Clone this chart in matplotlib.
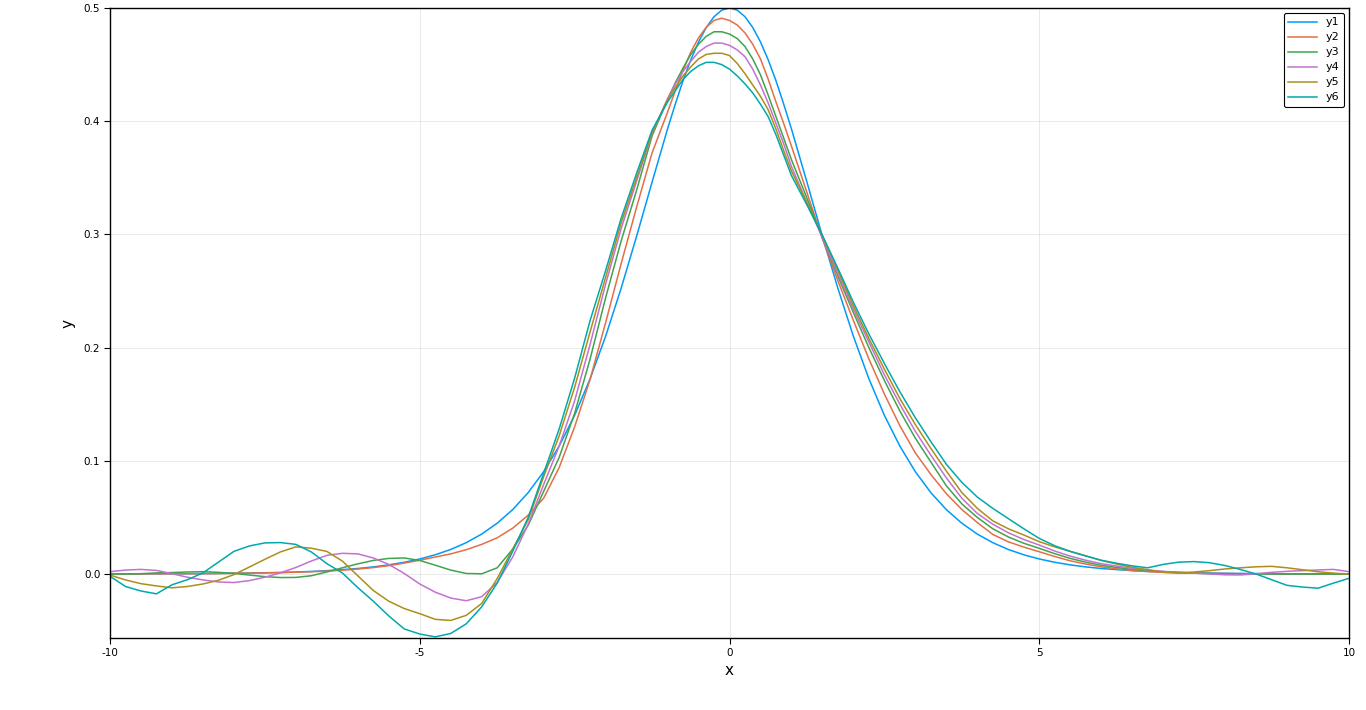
import matplotlib
matplotlib.use("Agg")
import matplotlib.pyplot as plt
import numpy as np

# sample positions: step 0.25 in the tails, 0.125 around the peak
x = np.concatenate([np.arange(-40, -4) * 0.25,
                    np.arange(-8, 9) * 0.125,
                    np.arange(5, 41) * 0.25])

y1 = [0.0001, 0.0001, 0.0002, 0.0002, 0.0002, 0.0003, 0.0004, 0.0005, 0.0007, 0.0009,
      0.0011, 0.0014, 0.0018, 0.0023, 0.0030, 0.0039, 0.0049, 0.0063, 0.0081, 0.0104,
      0.0133, 0.0170, 0.0217, 0.0277, 0.0353, 0.0449, 0.0569, 0.0719, 0.0904, 0.1130,
      0.1402, 0.1725, 0.2100, 0.2523, 0.2983, 0.3462,
      0.3932, 0.4151, 0.4358, 0.4542, 0.4700, 0.4828, 0.4923, 0.4981, 0.5000,
      0.4981, 0.4923, 0.4828, 0.4700, 0.4542, 0.4358, 0.4151, 0.3932,
      0.3462, 0.2983, 0.2523, 0.2100, 0.1725, 0.1402, 0.1130, 0.0904, 0.0719, 0.0569,
      0.0449, 0.0353, 0.0277, 0.0217, 0.0170, 0.0133, 0.0104, 0.0081, 0.0063, 0.0049,
      0.0039, 0.0030, 0.0023, 0.0018, 0.0014, 0.0011, 0.0009, 0.0007, 0.0005, 0.0004,
      0.0003, 0.0002, 0.0002, 0.0002, 0.0001, 0.0001]

y2 = [0.0001, 0.0001, 0.0001, 0.0002, 0.0002, 0.0003, 0.0003, 0.0004, 0.0006, 0.0008,
      0.0010, 0.0012, 0.0016, 0.0020, 0.0026, 0.0034, 0.0044, 0.0057, 0.0074, 0.0097,
      0.0122, 0.0150, 0.0178, 0.0215, 0.0262, 0.0320, 0.0405, 0.0520, 0.0670, 0.0940,
      0.1300, 0.1720, 0.2220, 0.2740, 0.3240, 0.3720,
      0.4080, 0.4270, 0.4450, 0.4610, 0.4737, 0.4830, 0.4890, 0.4910, 0.4890,
      0.4850, 0.4780, 0.4680, 0.4550, 0.4370, 0.4170, 0.3980, 0.3780,
      0.3370, 0.2960, 0.2590, 0.2240, 0.1900, 0.1590, 0.1310, 0.1070, 0.0880, 0.0710,
      0.0570, 0.0455, 0.0350, 0.0285, 0.0238, 0.0197, 0.0155, 0.0117, 0.0088, 0.0064,
      0.0046, 0.0031, 0.0022, 0.0015, 0.0010, 0.0007, 0.0005, 0.0004, 0.0003, 0.0002,
      0.0002, 0.0001, 0.0001, 0.0001, 0.0001, 0.0001]

y3 = [0.0000, 0.0000, 0.0003, 0.0010, 0.0013, 0.0018, 0.0021, 0.0015, 0.0006, -0.0009,
      -0.0023, -0.0031, -0.0030, -0.0015, 0.0018, 0.0055, 0.0090, 0.0120, 0.0138, 0.0142,
      0.0120, 0.0078, 0.0035, 0.0005, 0.0002, 0.0055, 0.0220, 0.0430, 0.0730, 0.1030,
      0.1420, 0.1900, 0.2440, 0.2940, 0.3390, 0.3870,
      0.4190, 0.4340, 0.4470, 0.4590, 0.4680, 0.4750, 0.4790, 0.4790, 0.4770,
      0.4730, 0.4660, 0.4550, 0.4410, 0.4230, 0.4040, 0.3850, 0.3660,
      0.3320, 0.2970, 0.2630, 0.2310, 0.2000, 0.1710, 0.1440, 0.1200, 0.0990, 0.0780,
      0.0620, 0.0500, 0.0400, 0.0328, 0.0272, 0.0227, 0.0180, 0.0138, 0.0105, 0.0078,
      0.0058, 0.0042, 0.0031, 0.0022, 0.0014, 0.0008, 0.0004, 0.0002, 0.0001, 0.0001,
      0.0000, 0.0000, 0.0000, 0.0000, 0.0000, 0.0000]

y4 = [0.0021, 0.0035, 0.0041, 0.0032, 0.0003, -0.0028, -0.0052, -0.0070, -0.0075, -0.0058,
      -0.0028, 0.0010, 0.0058, 0.0115, 0.0165, 0.0183, 0.0178, 0.0142, 0.0085, 0.0005,
      -0.0088, -0.0160, -0.0212, -0.0236, -0.0200, -0.0075, 0.0150, 0.0440, 0.0790, 0.1130,
      0.1530, 0.2030, 0.2560, 0.3050, 0.3470, 0.3890,
      0.4200, 0.4330, 0.4440, 0.4530, 0.4610, 0.4660, 0.4690, 0.4690, 0.4670,
      0.4630, 0.4570, 0.4460, 0.4320, 0.4160, 0.3980, 0.3800, 0.3600,
      0.3280, 0.2970, 0.2650, 0.2340, 0.2050, 0.1760, 0.1500, 0.1260, 0.1050, 0.0850,
      0.0670, 0.0535, 0.0440, 0.0365, 0.0305, 0.0256, 0.0203, 0.0158, 0.0122, 0.0092,
      0.0070, 0.0050, 0.0036, 0.0023, 0.0015, 0.0008, 0.0001, -0.0007, -0.0008, 0.0002,
      0.0015, 0.0024, 0.0030, 0.0036, 0.0041, 0.0021]

y5 = [-0.0009, -0.0052, -0.0085, -0.0105, -0.0122, -0.0110, -0.0088, -0.0055, -0.0005, 0.0062,
      0.0130, 0.0195, 0.0240, 0.0228, 0.0200, 0.0115, -0.0015, -0.0145, -0.0240, -0.0305,
      -0.0350, -0.0400, -0.0410, -0.0365, -0.0260, -0.0040, 0.0220, 0.0480, 0.0860, 0.1220,
      0.1650, 0.2140, 0.2620, 0.3100, 0.3500, 0.3900,
      0.4190, 0.4300, 0.4400, 0.4480, 0.4550, 0.4590, 0.4600, 0.4600, 0.4580,
      0.4510, 0.4420, 0.4320, 0.4220, 0.4100, 0.3930, 0.3740, 0.3560,
      0.3280, 0.2990, 0.2680, 0.2370, 0.2080, 0.1810, 0.1550, 0.1320, 0.1110, 0.0910,
      0.0720, 0.0580, 0.0470, 0.0400, 0.0345, 0.0286, 0.0240, 0.0200, 0.0160, 0.0120,
      0.0088, 0.0060, 0.0038, 0.0015, 0.0010, 0.0018, 0.0030, 0.0045, 0.0055, 0.0064,
      0.0068, 0.0055, 0.0038, 0.0020, 0.0008, 0.0000]

y6 = [-0.0020, -0.0110, -0.0150, -0.0175, -0.0095, -0.0050, 0.0010, 0.0105, 0.0200, 0.0248,
      0.0275, 0.0278, 0.0262, 0.0195, 0.0092, 0.0010, -0.0120, -0.0240, -0.0370, -0.0485,
      -0.0530, -0.0555, -0.0525, -0.0440, -0.0290, -0.0080, 0.0200, 0.0500, 0.0890, 0.1280,
      0.1730, 0.2240, 0.2680, 0.3140, 0.3540, 0.3920,
      0.4170, 0.4270, 0.4370, 0.4440, 0.4490, 0.4520, 0.4520, 0.4500, 0.4460,
      0.4400, 0.4330, 0.4250, 0.4150, 0.4040, 0.3880, 0.3700, 0.3520,
      0.3260, 0.2990, 0.2700, 0.2400, 0.2120, 0.1860, 0.1610, 0.1380, 0.1170, 0.0970,
      0.0810, 0.0680, 0.0580, 0.0490, 0.0400, 0.0315, 0.0250, 0.0200, 0.0160, 0.0122,
      0.0095, 0.0072, 0.0055, 0.0085, 0.0105, 0.0110, 0.0100, 0.0075, 0.0040, 0.0000,
      -0.0050, -0.0100, -0.0115, -0.0125, -0.0080, -0.0038]

series = [y1, y2, y3, y4, y5, y6]
labels = ["y1", "y2", "y3", "y4", "y5", "y6"]
colors = ["#009AFA", "#E36F47", "#3EA44E", "#C371D2", "#AC8E18", "#00A9AD"]

fig = plt.figure(figsize=(13.66, 7.10), dpi=100)
ax = fig.add_axes([110 / 1366, 1 - 638 / 710, 1239 / 1366, 630 / 710])

for ys, lab, col in zip(series, labels, colors):
    ax.plot(x, ys, color=col, lw=1.1, label=lab)

ax.set_xlim(-10, 10)
ax.set_ylim(-0.0565, 0.5)
ax.set_xticks([-10, -5, 0, 5, 10])
ax.set_xticklabels(["-10", "-5", "0", "5", "10"])
ax.set_yticks([0.0, 0.1, 0.2, 0.3, 0.4, 0.5])
ax.set_yticklabels(["0.0", "0.1", "0.2", "0.3", "0.4", "0.5"])
ax.tick_params(labelsize=7.5, length=4, width=0.8, direction="out", pad=3)
ax.grid(True, color="black", alpha=0.1, lw=0.6)
for sp in ax.spines.values():
    sp.set_linewidth(1.0)

ax.set_xlabel("x", fontsize=11, labelpad=4)
ax.set_ylabel("y", fontsize=11, labelpad=6)

leg = ax.legend(loc="upper right", fontsize=8, borderaxespad=0.45,
                handlelength=2.6, labelspacing=0.45, fancybox=True,
                framealpha=1, edgecolor="black")
leg.get_frame().set_linewidth(0.8)

fig.savefig("out.png", dpi=100)
